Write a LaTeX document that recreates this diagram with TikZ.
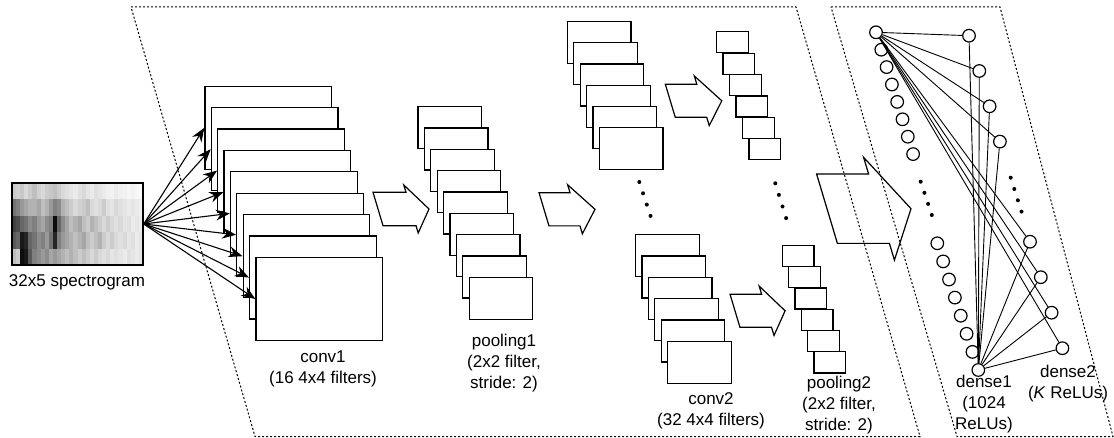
\documentclass[tikz,border=0pt]{standalone}
\usepackage{fontspec}
\setmainfont{Liberation Sans}
\usepackage{tikz}
\usetikzlibrary{arrows.meta}
\newcommand{\blockarrow}[6]{%
  \begin{scope}[shift={(#1,#2)}, xslant=-0.3]
    \draw[blockarr] (0,-#5) -- (#3,-#5) -- (#3,-#6) -- ({#3+#4},0) -- (#3,#6) -- (#3,#5) -- (0,#5) -- cycle;
  \end{scope}}

\begin{document}
\begin{tikzpicture}[x=0.5pt, y=-0.5pt,
  every node/.style={font=\fontsize{8.5pt}{10.5pt}\selectfont},
  fmap/.style={draw, fill=white, line width=0.6pt, anchor=north west, inner sep=0pt},
  c1box/.style={minimum width=63.35pt, minimum height=41.5pt},
  c2box/.style={minimum width=31.8pt, minimum height=21pt},
  p2box/.style={minimum width=15.85pt, minimum height=10.5pt},
  feed/.style={-{Stealth[length=7pt,width=5.4pt]}, line width=0.55pt},
  blockarr/.style={draw, fill=white, line width=0.6pt},
  neuron/.style={draw, circle, fill=white, line width=0.6pt, minimum size=6.3pt, inner sep=0pt},
  link/.style={line width=0.45pt},
  zone/.style={line width=0.5pt, dash pattern=on 1pt off 1pt}]
\useasboundingbox (0,0) rectangle (1114,438);

% input
\foreach \row [count=\r] in {
  {20,18,22,15,20,25,18,15,20,22,25,20,15,12,10,8,12,15,10,8,12,10,8,6,5,8,6,5,4,5,3,2},
  {55,50,40,35,30,30,35,25,30,40,50,45,30,25,20,15,18,20,25,15,12,15,20,12,10,15,12,10,8,10,8,6},
  {75,70,60,55,45,50,40,35,45,50,95,60,45,35,25,30,35,25,20,30,25,20,15,20,15,12,15,10,12,8,10,8},
  {65,60,90,85,60,55,45,50,40,55,85,50,40,35,30,25,30,35,25,20,25,30,20,15,20,15,12,15,10,12,8,10},
  {25,20,95,90,65,50,45,40,45,35,40,35,30,25,30,25,20,25,20,15,20,15,12,15,10,12,10,8,12,10,8,10}} {
  \foreach \v [count=\c] in \row
    \fill[black!\v] ({12+4.094*(\c-1)},{183+16.4*(\r-1)}) rectangle +(4.3,16.6);
}
\node[draw, line width=0.7pt, minimum width=65.5pt, minimum height=41pt, inner sep=0pt] (spec) at (77.5,224) {};
\node (spec-lbl) at (77,282) {32x5 spectrogram};

% conv1
\foreach \i in {1,...,9}
  \node[fmap, c1box] (conv1-\i) at ({204.3+6.38*(\i-1)},{85.7+21.4*(\i-1)}) {};
\foreach \i in {1,...,9}
  \draw[feed] (spec.east) -- (conv1-\i.west);
\node[align=center] (conv1-lbl) at (323,368.5) {conv1\\(16 4x4 filters)};

\blockarrow{378}{209}{33}{18}{16.7}{24}

% pooling1
\foreach \i in {1,...,9}
  \node[fmap, c2box] (pool1-\i) at ({417.3+6.42*(\i-1)},{106+21.34*(\i-1)}) {};
\node[align=center] (pool1-lbl) at (504,363) {pooling1\\(2x2 filter,\\stride: 2)};

\blockarrow{544}{209.3}{31}{20}{16.6}{24.5}

% conv2
\foreach \i in {1,...,6}
  \node[fmap, c2box] (conv2a-\i) at ({566.7+6.4*(\i-1)},{20.7+21.32*(\i-1)}) {};
\foreach \i in {1,...,6}
  \node[fmap, c2box] (conv2b-\i) at ({635+6.4*(\i-1)},{234+21.34*(\i-1)}) {};
\foreach \k in {0,...,3}
  \fill ({639.3+3.75*\k},{182+11.3*\k}) circle (1pt);
\node[align=center] (conv2-lbl) at (711,411) {conv2\\(32 4x4 filters)};

\blockarrow{670.3}{100.8}{31.5}{20}{16.5}{24.8}
\blockarrow{735}{310.8}{31.6}{18.5}{16.5}{24.7}

% pooling2
\foreach \i in {1,...,6}
  \node[fmap, p2box] (pool2a-\i) at ({716+6.46*(\i-1)},{31.3+21.34*(\i-1)}) {};
\foreach \i in {1,...,6}
  \node[fmap, p2box] (pool2b-\i) at ({781.7+6.32*(\i-1)},{244.7+21.32*(\i-1)}) {};
\foreach \k in {0,...,3}
  \fill ({775.3+3.6*\k},{183.3+11.6*\k}) circle (1pt);
\node[align=center] (pool2-lbl) at (839,405) {pooling2\\(2x2 filter,\\stride: 2)};

\blockarrow{827}{208.7}{52}{32}{34.7}{51.4}

% dense layers
\foreach \i in {1,...,8}
  \node[neuron] (h\i) at ({876+5.3*(\i-1)},{32.3+17.4*(\i-1)}) {};
\foreach \i in {9,...,16}
  \node[neuron] (h\i) at ({937.3+5.86*(\i-9)},{243.3+18.1*(\i-9)}) {};
\foreach \j in {1,...,4}
  \node[neuron] (o\j) at ({969+10.3*(\j-1)},{35.7+35.3*(\j-1)}) {};
\foreach \j in {5,...,8}
  \node[neuron] (o\j) at ({1030+10.8*(\j-5)},{241.7+35.5*(\j-5)}) {};
\foreach \j in {1,...,8}
  \draw[link] (h1) -- (o\j) (h16) -- (o\j);
\foreach \k in {0,...,3} {
  \fill ({920.7+3.7*\k},{181.7+11.1*\k}) circle (1pt);
  \fill ({1010.7+3.6*\k},{177.7+11.3*\k}) circle (1pt);
}
\node[align=center] (dense1-lbl) at (984,404) {dense1\\(1024\\ReLUs)};
\node[align=center] (dense2-lbl) at (1068,383.5) {dense2\\(\textit{K} ReLUs)};

% groups
\draw[zone] (131,7) -- (796,7) -- (920,436.5) -- (255,436.5) -- cycle;
\draw[zone] (831,7) -- (1000,7) -- (1113,436.5) -- (957,436.5) -- cycle;
\end{tikzpicture}
\end{document}
